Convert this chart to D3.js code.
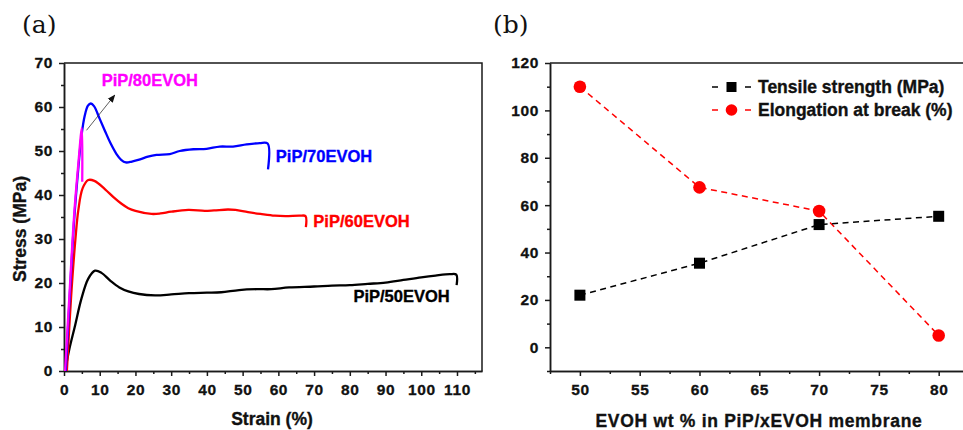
<!DOCTYPE html>
<html>
<head>
<meta charset="utf-8">
<script src="https://cdn.jsdelivr.net/npm/d3@7"></script>
<style>
  body { margin: 0; background: #fff; }
  svg { display: block; font-family: "Liberation Sans", Arial, sans-serif; }
  .axis path, .axis line { stroke: #1a1a1a; stroke-width: 1.5; }
  .frame { stroke: #1a1a1a; stroke-width: 1.5; }
  .title { font-size: 17.5px; font-weight: bold; fill: #111; stroke: #111; stroke-width: 0.35px; }
  .panel { font-family: "DejaVu Serif", serif; font-size: 25px; fill: #111; }
  .lbl { font-size: 16.5px; font-weight: bold; stroke-width: 0.35px; }
  .legend { font-size: 17.5px; font-weight: bold; fill: #111; stroke: #111; stroke-width: 0.35px; }
</style>
</head>
<body>
<svg id="chart" width="963" height="430"></svg>
<script>
// (a) stress-strain curves: [strain %, stress MPa]
const curve50 = [[0.3,0],[1.5,5],[3,10],[4.9,16.5],[6.8,21],[8.7,22.8],[10.5,22.3],[13,20.5],[15.5,19],[18,18.1],[21,17.5],[25.5,17.2],[30,17.4],[35,17.7],[40,17.8],[44,17.9],[49,18.4],[54,18.6],[58,18.6],[63,19],[70,19.2],[75,19.4],[80,19.5],[85,19.8],[90,20.1],[95,20.7],[100,21.3],[104,21.7],[108,22],[109.8,21.9],[109.9,19.5]];
const curve60 = [[0.8,0],[2,17],[3.2,30],[4,36.5],[5.2,41.5],[6.8,43.4],[8.5,43.2],[11.5,41.3],[14,39.4],[16.1,38],[18,37],[20,36.4],[24.5,35.7],[27,35.8],[30,36.2],[34.8,36.6],[39.4,36.4],[42,36.5],[45.9,36.7],[48,36.6],[51.5,36.1],[55,35.7],[59,35.3],[62,35.2],[66,35.3],[67.6,35.2],[67.7,32.7]];
const curve70 = [[0.5,0],[1.6,17],[2.9,35],[4,46],[4.9,53.5],[5.8,58],[6.7,60.3],[7.5,60.8],[8.4,60.2],[10,57.3],[11.5,54.5],[13,51.8],[14.7,49.3],[16,48],[17.3,47.4],[19,47.6],[21.3,48.1],[23.5,48.7],[25.9,49.1],[29.6,49.3],[32.4,50],[36.2,50.4],[39.9,50.5],[43.6,51],[47.3,51],[51.1,51.5],[54.8,51.8],[57,51.7],[57.1,45.8]];
const curve80 = [[0.3,0],[1.5,17],[2.8,35],[4,47],[5,55.2],[5.1,43]];
const curveNames = ["PiP/50EVOH", "PiP/60EVOH", "PiP/70EVOH", "PiP/80EVOH"];
const curveColors = ["#000000", "#ff0000", "#0000ff", "#ff00ff"];
const strainTicks = [0, 10, 20, 30, 40, 50, 60, 70, 80, 90, 100, 110];
const stressTicks = [0, 10, 20, 30, 40, 50, 60, 70];

// (b) properties vs EVOH content
const evohWt = [50, 60, 70, 80];
const tensileStrength = [22, 35.5, 51.8, 55.3];
const elongation = [110, 67.5, 57.5, 5];
const legendLabels = ["Tensile strength (MPa)", "Elongation at break (%)"];
const wtTicks = [50, 55, 60, 65, 70, 75, 80];
const propTicks = [0, 20, 40, 60, 80, 100, 120];

const svg = d3.select("#chart");

const addAxis = (g, axisFn, scale, major, minor, pad) => {
    g.append("g").attr("class", "axis")
        .call(axisFn(scale).tickValues(minor).tickSize(3).tickSizeOuter(0).tickFormat(""));
    const ax = g.append("g").attr("class", "axis")
        .call(axisFn(scale).tickValues(major).tickSize(5).tickSizeOuter(0).tickPadding(pad));
    ax.attr("font-family", null).attr("font-size", null);
    ax.selectAll("text")
        .style("font-family", '"Liberation Sans", Arial, sans-serif')
        .style("font-size", "15.5px")
        .style("font-weight", "bold")
        .style("letter-spacing", "0.6px")
        .style("stroke", "#111")
        .style("stroke-width", "0.3px")
        .attr("fill", "#111");
};

// ---------- panel (a) ----------
const xa = d3.scaleLinear().domain([0, 117]).range([64, 482]);
const ya = d3.scaleLinear().domain([0, 70]).range([371, 63]);

svg.append("text").attr("class", "panel").attr("x", 22).attr("y", 33).text("(a)");

const ga = svg.append("g");
ga.append("path").attr("class", "frame").attr("fill", "none")
    .attr("d", `M${xa(0)},${ya(70)}H${xa(117)}V${ya(0)}`);

addAxis(ga.append("g").attr("transform", `translate(0,${ya(0)})`), d3.axisBottom, xa,
    strainTicks, d3.range(5, 117, 10), 8);
addAxis(ga.append("g").attr("transform", `translate(${xa(0)},0)`), d3.axisLeft, ya,
    stressTicks, d3.range(5, 70, 10), 6);

ga.append("text").attr("class", "title").attr("text-anchor", "middle")
    .attr("x", 272).attr("y", 425).text("Strain (%)");
ga.append("text").attr("class", "title").attr("text-anchor", "middle")
    .attr("transform", "translate(26,229) rotate(-90)").text("Stress (MPa)");

const lineA = d3.line().x(d => xa(d[0])).y(d => ya(d[1])).curve(d3.curveCatmullRom.alpha(0.5));
const curves = [curve50, curve60, curve70, curve80];
ga.selectAll("path.curve").data(curves).enter().append("path")
    .attr("class", "curve")
    .attr("fill", "none")
    .attr("stroke", (d, i) => curveColors[i])
    .attr("stroke-width", 2.3)
    .attr("stroke-linejoin", "round")
    .attr("d", lineA);

// curve labels
const labelPos = [[81, 15.7], [69.8, 32.7], [59.3, 47.6], [10.55, 64.8]];
ga.selectAll("text.lbl").data(curveNames).enter().append("text")
    .attr("class", "lbl")
    .attr("fill", (d, i) => curveColors[i])
    .attr("stroke", (d, i) => curveColors[i])
    .attr("x", (d, i) => xa(labelPos[i][0]))
    .attr("y", (d, i) => ya(labelPos[i][1]))
    .text(d => d);

// arrow pointing at the 80EVOH curve tip
svg.append("defs").append("marker")
    .attr("id", "arrow").attr("viewBox", "0 0 10 10").attr("refX", 9).attr("refY", 5)
    .attr("markerWidth", 8).attr("markerHeight", 8).attr("markerUnits", "userSpaceOnUse")
    .attr("orient", "auto")
    .append("path").attr("d", "M0,1L10,5L0,9z").attr("fill", "#111");
ga.append("line")
    .attr("x1", xa(6.3)).attr("y1", ya(54.7)).attr("x2", xa(14.2)).attr("y2", ya(62.7))
    .attr("stroke", "#333").attr("stroke-width", 0.8).attr("marker-end", "url(#arrow)");

// ---------- panel (b) ----------
const xb = d3.scaleLinear().domain([47.5, 82.2]).range([550, 965]);
const yb = d3.scaleLinear().domain([-10, 120]).range([371, 63]);

svg.append("text").attr("class", "panel").attr("x", 493).attr("y", 33).text("(b)");

const gb = svg.append("g");
gb.append("path").attr("class", "frame").attr("fill", "none")
    .attr("d", `M${xb(47.5)},${yb(120)}H${xb(82.2)}`);

addAxis(gb.append("g").attr("transform", `translate(0,${yb(-10)})`), d3.axisBottom, xb,
    wtTicks, d3.range(47.5, 82.3, 5), 8);
addAxis(gb.append("g").attr("transform", `translate(${xb(47.5)},0)`), d3.axisLeft, yb,
    propTicks, d3.range(-10, 120, 20), 6);

gb.append("text").attr("class", "title").attr("text-anchor", "middle")
    .style("letter-spacing", "0.7px")
    .attr("x", 759).attr("y", 427).text("EVOH wt % in PiP/xEVOH membrane");

const lineB = (vals) => d3.line().x((d, i) => xb(evohWt[i])).y(d => yb(d))(vals);

gb.append("path").attr("d", lineB(elongation))
    .attr("fill", "none").attr("stroke", "#ff0000").attr("stroke-width", 1.5)
    .attr("stroke-dasharray", "6,4.5");
gb.append("path").attr("d", lineB(tensileStrength))
    .attr("fill", "none").attr("stroke", "#000").attr("stroke-width", 1.5)
    .attr("stroke-dasharray", "6,4.5");

gb.selectAll("circle.pt").data(elongation).enter().append("circle")
    .attr("class", "pt")
    .attr("cx", (d, i) => xb(evohWt[i])).attr("cy", d => yb(d))
    .attr("r", 6.3).attr("fill", "#ff0000");
gb.selectAll("rect.pt").data(tensileStrength).enter().append("rect")
    .attr("class", "pt")
    .attr("x", (d, i) => xb(evohWt[i]) - 5.5).attr("y", d => yb(d) - 5.5)
    .attr("width", 11).attr("height", 11).attr("fill", "#000");

// legend
const leg = gb.append("g");
const legColors = ["#000", "#ff0000"];
legendLabels.forEach((name, i) => {
    const cy = 87 + i * 23;
    const row = leg.append("g").attr("transform", `translate(0,${cy})`);
    row.append("line").attr("x1", 712).attr("x2", 718).attr("y1", 0).attr("y2", 0)
        .attr("stroke", legColors[i]).attr("stroke-width", 1.5);
    row.append("line").attr("x1", 745).attr("x2", 751).attr("y1", 0).attr("y2", 0)
        .attr("stroke", legColors[i]).attr("stroke-width", 1.5);
    if (i === 0) {
        row.append("rect").attr("x", 726.5).attr("y", -5).attr("width", 10).attr("height", 10)
            .attr("fill", "#000");
    } else {
        row.append("circle").attr("cx", 731.5).attr("cy", 0).attr("r", 5.8).attr("fill", "#ff0000");
    }
    row.append("text").attr("class", "legend").attr("x", 758).attr("y", 6.3).text(name);
});
</script>
</body>
</html>
